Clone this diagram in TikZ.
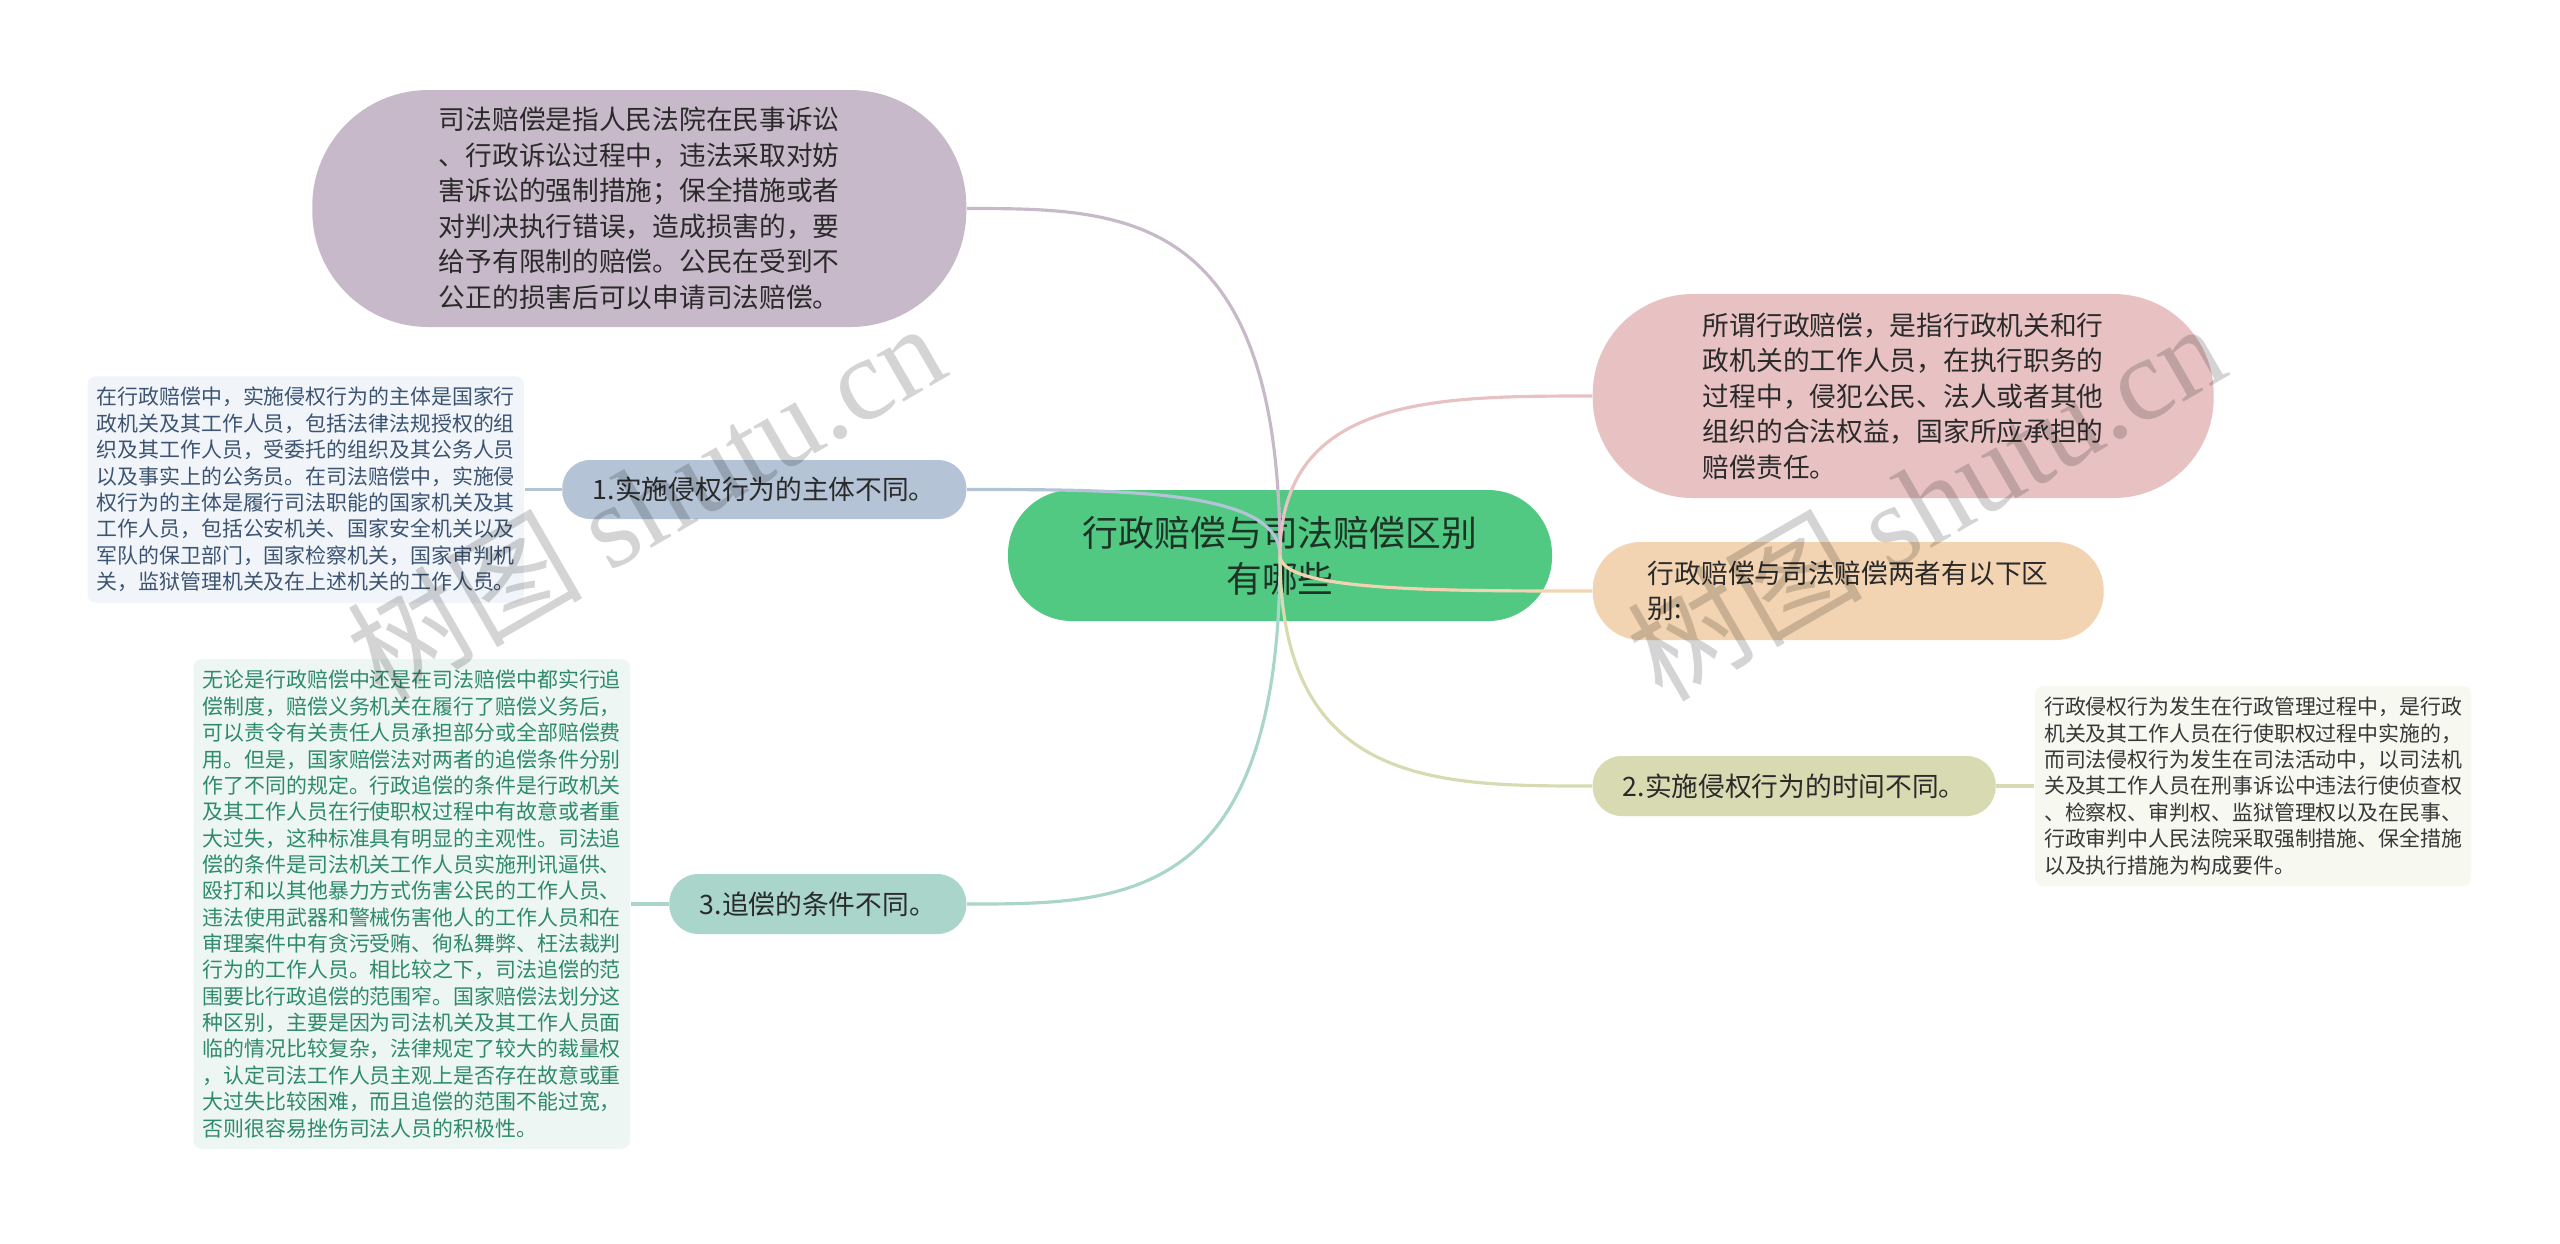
\documentclass[tikz,border=0pt]{standalone}
\usepackage{fontspec}
\setmainfont{Noto Sans CJK SC}
\newfontfamily\markfont{Liberation Serif}
\usepackage{xcolor}
\usepackage{tikz}
\usetikzlibrary{positioning,calc}

\definecolor{rootgreen}{HTML}{52C983}
\definecolor{roottext}{HTML}{1C3325}
\definecolor{pilltext}{HTML}{2A2A2A}
\definecolor{purplefill}{HTML}{C8B9CA}
\definecolor{bluefill}{HTML}{B4C3D5}
\definecolor{tealfill}{HTML}{A9D5CA}
\definecolor{pinkfill}{HTML}{E8C2C3}
\definecolor{orangefill}{HTML}{F3D4B2}
\definecolor{olivefill}{HTML}{D8DBB1}
\definecolor{bluebox}{HTML}{F1F5F9}
\definecolor{bluetext}{HTML}{3C5472}
\definecolor{tealbox}{HTML}{EEF6F3}
\definecolor{tealtext}{HTML}{2E8A6B}
\definecolor{olivebox}{HTML}{F7F8EF}
\definecolor{olivetext}{HTML}{383838}

\begin{document}
\begin{tikzpicture}[
        pill/.style={
            align=left,
            text=pilltext,
            inner sep=0pt,
            font={\fontsize{7.6pt}{10.1pt}\selectfont}
        },
        leafbox/.style={
            align=left,
            rounded corners=0.08cm,
            inner xsep=0.09cm,
            inner ysep=0.11cm,
            font={\fontsize{5.95pt}{7.5pt}\selectfont}
        },
        link/.style={line width=0.9pt},
        watermark/.style={
            rotate=30,
            text=black,
            text opacity=0.17,
            font={\fontsize{33.5pt}{38pt}\selectfont}
        }
    ]

    \useasboundingbox (0,0) rectangle (25.6,-12.43);
    \fill[white] (0,0) rectangle (25.6,-12.43);

    % centre
    \node[
        pill,
        fill=rootgreen,
        text=roottext,
        align=center,
        minimum width=5.44cm,
        minimum height=1.31cm,
        rounded corners=0.64cm,
        font={\fontsize{10.2pt}{13pt}\selectfont}
    ] (root) at (12.80,-5.555) {行政赔偿与司法赔偿区别\\有哪些};

    % left side
    \node[
        pill,
        fill=purplefill,
        anchor=east,
        minimum width=6.54cm,
        minimum height=2.37cm,
        rounded corners=1.16cm
    ] (sifa) at (9.67,-2.085) {司法赔偿是指人民法院在民事诉讼\\、行政诉讼过程中，违法采取对妨\\害诉讼的强制措施；保全措施或者\\对判决执行错误，造成损害的，要\\给予有限制的赔偿。公民在受到不\\公正的损害后可以申请司法赔偿。};

    \node[
        pill,
        fill=bluefill,
        anchor=east,
        minimum width=4.04cm,
        minimum height=0.59cm,
        rounded corners=0.28cm
    ] (zhuti) at (9.67,-4.895) {1.实施侵权行为的主体不同。};

    \node[
        leafbox,
        fill=bluebox,
        text=bluetext,
        left=0.37cm of zhuti
    ] (zhutitext) {在行政赔偿中，实施侵权行为的主体是国家行\\政机关及其工作人员，包括法律法规授权的组\\织及其工作人员，受委托的组织及其公务人员\\以及事实上的公务员。在司法赔偿中，实施侵\\权行为的主体是履行司法职能的国家机关及其\\工作人员，包括公安机关、国家安全机关以及\\军队的保卫部门，国家检察机关，国家审判机\\关，监狱管理机关及在上述机关的工作人员。};

    \node[
        pill,
        fill=tealfill,
        anchor=east,
        minimum width=2.97cm,
        minimum height=0.60cm,
        rounded corners=0.29cm
    ] (zhuichang) at (9.67,-9.04) {3.追偿的条件不同。};

    \node[
        leafbox,
        fill=tealbox,
        text=tealtext,
        left=0.38cm of zhuichang
    ] (zhuichangtext) {无论是行政赔偿中还是在司法赔偿中都实行追\\偿制度，赔偿义务机关在履行了赔偿义务后，\\可以责令有关责任人员承担部分或全部赔偿费\\用。但是，国家赔偿法对两者的追偿条件分别\\作了不同的规定。行政追偿的条件是行政机关\\及其工作人员在行使职权过程中有故意或者重\\大过失，这种标准具有明显的主观性。司法追\\偿的条件是司法机关工作人员实施刑讯逼供、\\殴打和以其他暴力方式伤害公民的工作人员、\\违法使用武器和警械伤害他人的工作人员和在\\审理案件中有贪污受贿、徇私舞弊、枉法裁判\\行为的工作人员。相比较之下，司法追偿的范\\围要比行政追偿的范围窄。国家赔偿法划分这\\种区别，主要是因为司法机关及其工作人员面\\临的情况比较复杂，法律规定了较大的裁量权\\，认定司法工作人员主观上是否存在故意或重\\大过失比较困难，而且追偿的范围不能过宽，\\否则很容易挫伤司法人员的积极性。};

    % right side
    \node[
        pill,
        fill=pinkfill,
        anchor=west,
        minimum width=6.21cm,
        minimum height=2.04cm,
        rounded corners=1.0cm
    ] (xingzheng) at (15.92,-3.96) {所谓行政赔偿，是指行政机关和行\\政机关的工作人员，在执行职务的\\过程中，侵犯公民、法人或者其他\\组织的合法权益，国家所应承担的\\赔偿责任。};

    \node[
        pill,
        fill=orangefill,
        anchor=west,
        minimum width=5.11cm,
        minimum height=0.98cm,
        rounded corners=0.48cm
    ] (qubie) at (15.92,-5.91) {行政赔偿与司法赔偿两者有以下区\\别:};

    \node[
        pill,
        fill=olivefill,
        anchor=west,
        minimum width=4.03cm,
        minimum height=0.60cm,
        rounded corners=0.29cm
    ] (shijian) at (15.92,-7.86) {2.实施侵权行为的时间不同。};

    \node[
        leafbox,
        fill=olivebox,
        text=olivetext,
        right=0.38cm of shijian
    ] (shijiantext) {行政侵权行为发生在行政管理过程中，是行政\\机关及其工作人员在行使职权过程中实施的，\\而司法侵权行为发生在司法活动中，以司法机\\关及其工作人员在刑事诉讼中违法行使侦查权\\、检察权、审判权、监狱管理权以及在民事、\\行政审判中人民法院采取强制措施、保全措施\\以及执行措施为构成要件。};

    % branches
    \draw[link, draw=purplefill] (root.center) .. controls (root.center |- sifa.east) and ($(root.center |- sifa.east)!.5!(sifa.east)$) .. (sifa.east);
    \draw[link, draw=bluefill] (root.center) .. controls (root.center |- zhuti.east) and ($(root.center |- zhuti.east)!.5!(zhuti.east)$) .. (zhuti.east);
    \draw[link, draw=tealfill] (root.center) .. controls (root.center |- zhuichang.east) and ($(root.center |- zhuichang.east)!.5!(zhuichang.east)$) .. (zhuichang.east);
    \draw[link, draw=pinkfill] (root.center) .. controls (root.center |- xingzheng.west) and ($(root.center |- xingzheng.west)!.5!(xingzheng.west)$) .. (xingzheng.west);
    \draw[link, draw=orangefill] (root.center) .. controls (root.center |- qubie.west) and ($(root.center |- qubie.west)!.5!(qubie.west)$) .. (qubie.west);
    \draw[link, draw=olivefill] (root.center) .. controls (root.center |- shijian.west) and ($(root.center |- shijian.west)!.5!(shijian.west)$) .. (shijian.west);

    \draw[link, draw=bluefill] (zhuti.west) -- (zhutitext.east);
    \draw[link, draw=tealfill] (zhuichang.west) -- (zhuichangtext.east);
    \draw[link, draw=olivefill] (shijian.east) -- (shijiantext.west);

    % marks
    \node[watermark] (markleft) at (6.45,-5.0) {树图 {\markfont shutu.cn}};
    \node[watermark] (markright) at (19.25,-5.0) {树图 {\markfont shutu.cn}};

\end{tikzpicture}
\end{document}
